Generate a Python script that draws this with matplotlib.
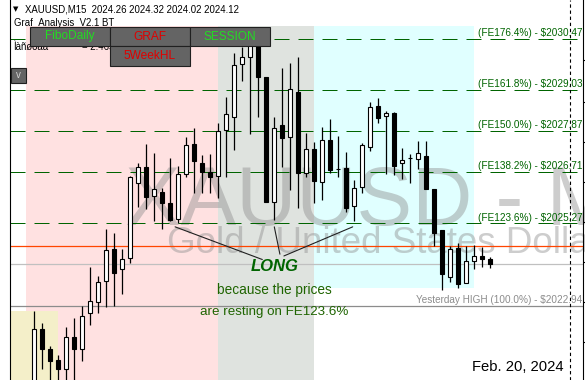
import numpy as np
import matplotlib
matplotlib.use('Agg')
import matplotlib.pyplot as plt
from matplotlib.patches import Rectangle
import matplotlib.transforms as mtransforms

W, H = 585, 380
plt.rcParams['font.family'] = ['Liberation Sans', 'DejaVu Sans']

# M15 candles (XAUUSD)
opens = [2020.52, 2022.28, 2021.72, 2021.42, 2021.16, 2022.06, 2021.72, 2022.73, 2023.05, 2023.64,
         2024.54, 2023.97, 2024.28, 2026.40, 2026.86, 2026.03, 2026.16, 2025.83, 2025.38, 2026.65,
         2027.50, 2026.96, 2026.71, 2026.59, 2027.90, 2028.27, 2029.75, 2029.95, 2030.32, 2029.38,
         2025.88, 2028.04, 2027.69, 2028.98, 2026.68, 2027.36, 2026.44, 2027.62, 2026.80, 2026.83,
         2025.75, 2026.28, 2027.43, 2028.57, 2028.29, 2028.37, 2026.96, 2027.10, 2027.07, 2027.17,
         2026.23, 2025.08, 2023.77, 2024.57, 2023.58, 2024.21, 2024.35, 2024.26]
highs = [2022.81, 2022.47, 2021.81, 2021.55, 2022.34, 2022.60, 2022.94, 2024.05, 2023.79, 2025.12,
         2025.01, 2024.55, 2026.60, 2026.98, 2027.50, 2027.26, 2026.26, 2027.10, 2026.88, 2027.71,
         2027.95, 2027.19, 2027.21, 2028.10, 2028.84, 2030.06, 2030.23, 2030.77, 2030.72, 2029.40,
         2028.27, 2029.64, 2029.78, 2029.96, 2027.81, 2027.57, 2027.97, 2028.20, 2027.72, 2027.28,
         2026.50, 2027.54, 2028.69, 2028.80, 2028.43, 2028.41, 2027.38, 2027.22, 2027.58, 2027.60,
         2026.23, 2025.08, 2024.64, 2024.71, 2024.63, 2024.66, 2024.61, 2024.32]
lows = [2020.29, 2021.16, 2020.72, 2020.57, 2020.43, 2020.57, 2021.38, 2022.40, 2022.75, 2022.90,
        2022.94, 2023.28, 2024.16, 2025.72, 2025.67, 2025.34, 2025.10, 2025.34, 2025.27, 2026.57,
        2026.12, 2026.13, 2026.12, 2025.98, 2026.58, 2027.33, 2029.29, 2027.79, 2028.26, 2025.86,
        2025.35, 2026.86, 2026.21, 2025.69, 2026.57, 2025.85, 2025.93, 2026.70, 2026.58, 2025.60,
        2025.34, 2026.13, 2027.32, 2028.09, 2026.66, 2026.62, 2026.52, 2026.41, 2026.79, 2026.23,
        2024.64, 2023.40, 2023.63, 2023.44, 2023.58, 2023.97, 2024.05, 2024.02]
closes = [2022.28, 2021.72, 2021.38, 2021.17, 2022.06, 2021.72, 2022.66, 2023.07, 2023.62, 2024.52,
          2023.86, 2024.27, 2026.57, 2026.85, 2026.00, 2026.25, 2025.83, 2025.36, 2026.65, 2027.47,
          2027.03, 2026.72, 2026.57, 2027.87, 2028.34, 2029.73, 2029.95, 2030.32, 2029.40, 2025.88,
          2027.96, 2027.66, 2029.04, 2026.70, 2027.36, 2026.47, 2027.62, 2026.77, 2026.79, 2025.71,
          2026.26, 2027.47, 2028.56, 2028.24, 2028.37, 2026.89, 2027.04, 2027.10, 2027.26, 2026.23,
          2024.99, 2023.85, 2024.55, 2023.55, 2024.20, 2024.35, 2024.26, 2024.12]

fe_names = ['FE176.4%', 'FE161.8%', 'FE150.0%', 'FE138.2%', 'FE123.6%']
fe_prices = [2030.47, 2029.03, 2027.87, 2026.71, 2025.27]
yday_high = 2022.94
ask_price = 2024.63
bid_price = 2024.12

# session boxes: start candle, end candle, top, bottom, colour (drawn in this order)
sess_start = [-1, 23, 35, -4]
sess_end = [23, 35, 55, 3]
sess_top = [2030.83, 2030.83, 2030.83, 2022.80]
sess_bottom = [2019.0, 2019.0, 2023.44, 2019.0]
sess_color = ['#ffe1e1', '#dfe3df', '#e0ffff', '#f4efc9']

# "LONG" pointers start under these candles
long_from = [17.6, 30.0, 39.8]
long_to = [(28.5, 2024.25), (30.7, 2024.40), (31.2, 2024.35)]

fig = plt.figure(figsize=(W / 100, H / 100), dpi=100)
ax = fig.add_axes([10 / W, 0, 573 / W, 1])
ax.set_xlim(-3.04, 68.59)
ax.set_ylim(2020.856, 2031.56)
for s in ['top', 'bottom']:
    ax.spines[s].set_visible(False)
ax.spines['left'].set_linewidth(0.8)
ax.spines['right'].set_linewidth(0.8)
ax.set_xticks([])
ax.yaxis.tick_right()
ax.set_yticks([2029.87, 2028.70, 2027.57, 2026.44, 2025.31, 2024.18, 2023.05, 2021.92])
ax.tick_params(axis='y', direction='out', length=3, width=0.8, labelright=False)

for s0, s1, t, b, c in zip(sess_start, sess_end, sess_top, sess_bottom, sess_color):
    ax.add_patch(Rectangle((s0, b), s1 - s0, t - b, facecolor=c, edgecolor='none', zorder=0))

# watermark
ax.text(11.34, 2025.22, 'XAUUSD - M15', fontsize=60, color='#909090', alpha=0.45,
        va='baseline', ha='left', zorder=1)
ax.text(16.55, 2024.42, 'Gold / United States Dollar', fontsize=26.5, color='#909090', alpha=0.45,
        va='baseline', ha='left', zorder=1)

# level lines
for p in fe_prices:
    ax.axhline(p, color='#006400', lw=0.72, dashes=(15, 9), zorder=2)
ax.axhline(ask_price, color='#ff4500', lw=0.9, zorder=2)
ax.axhline(bid_price, color='#c0c0c0', lw=0.9, zorder=2)
ax.axhline(yday_high, color='#8c8c8c', lw=0.9, zorder=2)
ax.axvline(67, color='black', lw=0.8, dashes=(3, 2.5), zorder=2)

trans = mtransforms.blended_transform_factory(ax.transAxes, ax.transData)
for n, p in zip(fe_names, fe_prices):
    ax.text(0.999, p + 0.02, '(%s) - $%.2f' % (n, p), transform=trans, ha='right', va='bottom',
            fontsize=7.2, color='#006400', zorder=3)
ax.text(0.999, yday_high + 0.02, 'Yesterday HIGH (100.0%%) - $%.2f' % yday_high, transform=trans,
        ha='right', va='bottom', fontsize=7.2, color='#8c8c8c', zorder=3)

# candles
x = np.arange(len(opens))
o = np.array(opens)
c = np.array(closes)
ax.vlines(x, lows, highs, color='black', lw=0.9, zorder=4)
bottom = np.minimum(o, c)
height = np.maximum(np.abs(c - o), 0.005)
cols = ['white' if cc >= oo else 'black' for oo, cc in zip(o, c)]
ax.bar(x, height, bottom=bottom, width=0.5, color=cols, edgecolor='black', linewidth=0.8, zorder=5)

# LONG annotation
for xf, xy_to in zip(long_from, long_to):
    ax.annotate('', xy=(xf, fe_prices[4] - 0.1), xytext=xy_to,
                arrowprops=dict(arrowstyle='-', color='#202020', lw=0.8, shrinkA=0, shrinkB=0),
                zorder=6)
ax.text(30.0, 2024.05, 'LONG', fontsize=12, fontweight='bold', fontstyle='italic',
        color='#006400', ha='center', va='center', zorder=7)
ax.text(30.0, 2023.38, 'because the prices', fontsize=9.8, color='#1e6400',
        ha='center', va='center', zorder=7)
ax.text(30.0, 2022.77, 'are resting on FE123.6%', fontsize=9.6, color='#1e6400',
        ha='center', va='center', zorder=7)

ax.text(66.1, 2021.1, 'Feb. 20, 2024', fontsize=10.6, ha='right', va='baseline',
        color='black', zorder=7)


def px(xp, yp):
    return xp / W, 1 - yp / H


def button(x0, y0, x1, y1, label, tc, fs=8.6):
    fx, fy = px(x0, y1)
    fig.patches.append(Rectangle((fx, fy), (x1 - x0) / W, (y1 - y0) / H, transform=fig.transFigure,
                                 facecolor='#646464', edgecolor='#202020', lw=0.8, zorder=10))
    tx, ty = px((x0 + x1) / 2, (y0 + y1) / 2)
    fig.text(tx, ty, label, color=tc, fontsize=fs, ha='center', va='center', zorder=11)


fig.text(*px(13, 9), '\u25bc', fontsize=5, ha='left', va='center', family='DejaVu Sans')
fig.text(*px(25, 12.7), 'XAUUSD,M15  2024.26 2024.32 2024.02 2024.12', fontsize=6.9,
         ha='left', va='baseline')
fig.text(*px(14, 25.8), 'Graf_Analysis_V2.1 BT', fontsize=6.9, ha='left', va='baseline', zorder=5)
fig.text(*px(14, 50), '\u00cc\u00e0\u00f1\u00f8\u00f2\u00e0\u00e1', fontsize=6.9,
         ha='left', va='baseline', zorder=5)
fig.text(*px(82, 50), '= 2.4657', fontsize=6.9, ha='left', va='baseline', zorder=5)

button(30, 27, 110, 46, 'FiboDaily', '#22dd22')
button(110, 27, 190, 46, 'GRAF', '#e00000')
button(190, 27, 270, 46, 'SESSION', '#22dd22')
button(110, 46, 190, 66, '5WeekHL', '#e00000')
button(11, 68, 26, 83, 'v', '#d0d0d0', fs=7)

fig.savefig('out.png', dpi=100)
